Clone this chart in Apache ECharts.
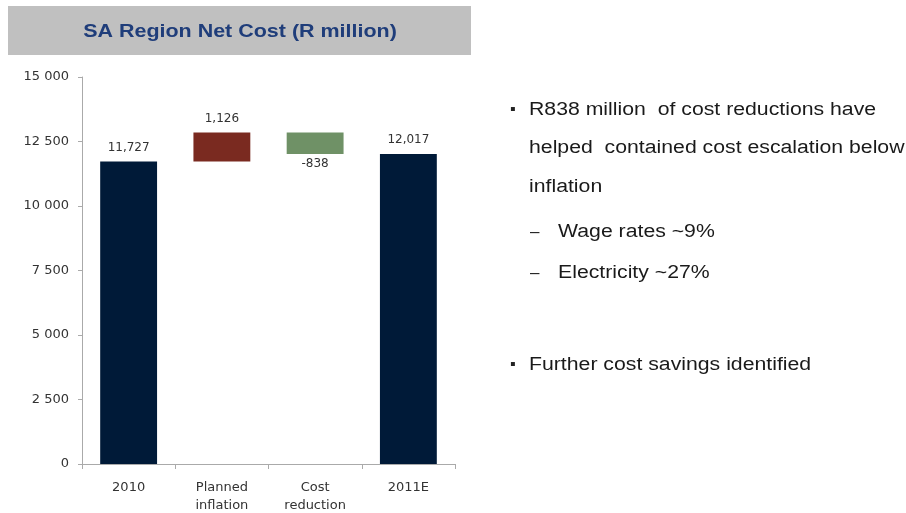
<!DOCTYPE html>
<html>
<head>
<meta charset="utf-8">
<script src="https://cdn.jsdelivr.net/npm/echarts@6/dist/echarts.min.js"></script>
<style>
  html, body { margin: 0; padding: 0; background: #fff; }
  #chart { width: 906px; height: 513px; }
</style>
</head>
<body>
<div id="chart"></div>
<script>
// 数据
const categories = ['2010', 'Planned\ninflation', 'Cost\nreduction', '2011E']
const values = [11727, 1126, -838, 12017]
const barColors = ['#001a38', '#7a2a20', '#6f9166', '#001a38']
const yTicks = [0, 2500, 5000, 7500, 10000, 12500, 15000]

// 瀑布图：透明底座 + 可见柱
const baseData = []
const barData = []
let running = 0
values.forEach((v, i) => {
  const isTotal = i === 0 || i === values.length - 1
  const item = {
    itemStyle: { color: barColors[i] },
    label: { position: v < 0 ? 'bottom' : 'top', distance: v < 0 ? 4 : 8 }
  }
  if (isTotal) {
    baseData.push(0)
    item.value = v
    running = v
  } else {
    const end = running + v
    baseData.push(Math.min(running, end))
    item.value = Math.abs(v)
    running = end
  }
  barData.push(item)
})

const fmtThousands = n => String(n).replace(/\B(?=(\d{3})+(?!\d))/g, ',')
const fmtAxis = n => String(n).replace(/\B(?=(\d{3})+(?!\d))/g, ' ')

const chart = echarts.init(document.getElementById('chart'))

const SANS = '"Liberation Sans", Arial, sans-serif'
const WIDE = '"DejaVu Sans", Verdana, sans-serif'

const bullets = [
  { x: 510, y: 110, mark: '▪', text: 'R838 million  of cost reductions have', tx: 529 },
  { y: 148, text: 'helped  contained cost escalation below', tx: 529 },
  { y: 187, text: 'inflation', tx: 529 },
  { x: 530, y: 232, mark: '–', text: 'Wage rates ~9%', tx: 558 },
  { x: 530, y: 273, mark: '–', text: 'Electricity ~27%', tx: 558 },
  { x: 510, y: 365, mark: '▪', text: 'Further cost savings identified', tx: 529 }
]

const graphics = [
  {
    type: 'rect',
    shape: { x: 8, y: 6, width: 463, height: 49 },
    style: { fill: '#c0c0c0' },
    z: 0
  },
  {
    type: 'text',
    x: 240,
    y: 32,
    scaleX: 1.13,
    style: {
      text: 'SA Region Net Cost (R million)',
      fill: '#1f3d7a',
      font: 'bold 19px ' + SANS,
      textAlign: 'center',
      textVerticalAlign: 'middle'
    }
  }
]
bullets.forEach(b => {
  if (b.mark) {
    graphics.push({
      type: 'text', x: b.x, y: b.y,
      style: {
        text: b.mark, fill: '#222',
        font: (b.mark === '▪' ? '16px ' : '17px ') + SANS,
        textVerticalAlign: 'middle'
      }
    })
  }
  graphics.push({
    type: 'text', x: b.tx, y: b.y,
    scaleX: 1.18,
    style: {
      text: b.text, fill: '#1a1a1a',
      font: '18px ' + SANS,
      textVerticalAlign: 'middle'
    }
  })
})

chart.setOption({
  animation: false,
  grid: { left: 82, right: 451, top: 77, bottom: 49, outerBoundsMode: 'none' },
  xAxis: {
    type: 'category',
    data: categories,
    axisLine: { lineStyle: { color: '#aaaaaa' } },
    axisTick: { show: true, length: 5, lineStyle: { color: '#aaaaaa' } },
    axisLabel: {
      color: '#333',
      fontSize: 13,
      lineHeight: 18,
      margin: 15,
      fontFamily: WIDE
    }
  },
  yAxis: {
    type: 'value',
    min: 0,
    max: 15000,
    interval: 2500,
    axisLine: { show: true, lineStyle: { color: '#aaaaaa' } },
    axisTick: { show: true, length: 4, lineStyle: { color: '#aaaaaa' } },
    splitLine: { show: false },
    axisLabel: {
      color: '#333',
      fontSize: 13,
      margin: 13,
      fontFamily: WIDE,
      formatter: v => yTicks.includes(v) ? fmtAxis(v) : ''
    }
  },
  series: [
    {
      type: 'bar',
      stack: 'wf',
      data: baseData,
      itemStyle: { color: 'transparent' },
      silent: true
    },
    {
      type: 'bar',
      stack: 'wf',
      data: barData,
      barWidth: '61%',
      label: {
        show: true,
        color: '#333',
        fontSize: 12,
        fontFamily: WIDE,
        formatter: p => fmtThousands(values[p.dataIndex])
      }
    }
  ],
  graphic: graphics
})
</script>
</body>
</html>
